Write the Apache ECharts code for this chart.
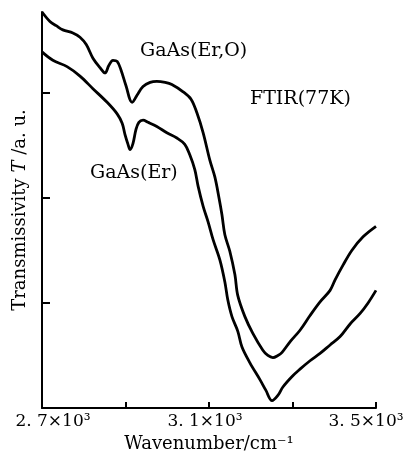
<!DOCTYPE html>
<html>
<head>
<meta charset="utf-8">
<script src="https://cdn.jsdelivr.net/npm/echarts@6/dist/echarts.min.js"></script>
<style>
html, body { margin: 0; padding: 0; background: #fff; }
#chart { width: 408px; height: 464px; }
</style>
</head>
<body>
<div id="chart"></div>
<script>
// GaAs(Er,O) curve
var erOX = [2700, 2719, 2734, 2750, 2774, 2791, 2806, 2822, 2839, 2851, 2860, 2870, 2880, 2889, 2901, 2916,
    2928, 2942, 2959, 2975, 2995, 3011, 3038, 3057, 3071, 3086, 3102, 3114, 3124, 3131, 3138, 3150, 3162,
    3169, 3186, 3205, 3229, 3241, 3253, 3265, 3275, 3294, 3318, 3342, 3366, 3390, 3402, 3421, 3442, 3469, 3500];
var erOY = [3.77, 3.68, 3.64, 3.60, 3.57, 3.53, 3.46, 3.33, 3.24, 3.19, 3.26, 3.31, 3.30, 3.22, 3.07, 2.91,
    2.98, 3.06, 3.10, 3.11, 3.10, 3.08, 3.01, 2.94, 2.81, 2.62, 2.36, 2.20, 2.00, 1.84, 1.65, 1.49, 1.27,
    1.07, 0.87, 0.71, 0.55, 0.50, 0.48, 0.50, 0.53, 0.63, 0.74, 0.88, 1.01, 1.12, 1.22, 1.36, 1.50, 1.63, 1.73];

// GaAs(Er) curve
var erX = [2700, 2726, 2760, 2791, 2822, 2856, 2880, 2892, 2899, 2906, 2911, 2918, 2925, 2932, 2942, 2954,
    2975, 2999, 3023, 3042, 3054, 3066, 3074, 3086, 3098, 3110, 3126, 3138, 3145, 3155, 3169, 3179, 3198,
    3222, 3236, 3251, 3265, 3277, 3299, 3318, 3342, 3366, 3390, 3414, 3438, 3462, 3481, 3500];
var erY = [3.39, 3.31, 3.25, 3.16, 3.04, 2.91, 2.80, 2.71, 2.60, 2.51, 2.46, 2.52, 2.65, 2.72, 2.74, 2.72,
    2.68, 2.62, 2.57, 2.51, 2.41, 2.27, 2.11, 1.92, 1.77, 1.60, 1.41, 1.20, 1.03, 0.87, 0.73, 0.58, 0.43,
    0.27, 0.17, 0.07, 0.12, 0.20, 0.30, 0.37, 0.45, 0.52, 0.60, 0.68, 0.80, 0.90, 1.00, 1.12];

var xTicks = [2700, 2900, 3100, 3300, 3500];
var xLabelValues = [2700, 3100, 3500];
var xLabelText = ['2. 7×10³', '3. 1×10³', '3. 5×10³'];
var yTicks = [1, 2, 3];

function pairs(xs, ys) {
    var out = [];
    for (var i = 0; i < xs.length; i++) out.push([xs[i], ys[i]]);
    return out;
}

var serif = 'DejaVu Serif';

var option = {
    backgroundColor: '#fff',
    animation: false,
    grid: { left: 42, right: 32, top: 12, bottom: 56 },
    xAxis: {
        type: 'value',
        min: 2700,
        max: 3500,
        interval: 200,
        name: 'Wavenumber/cm⁻¹',
        nameLocation: 'middle',
        nameGap: 27,
        nameTextStyle: { fontFamily: serif, fontSize: 18, color: '#000' },
        axisLine: { lineStyle: { color: '#000', width: 2 } },
        axisTick: { inside: true, length: 6, customValues: xTicks, lineStyle: { color: '#000', width: 2 } },
        splitLine: { show: false },
        axisLabel: {
            customValues: xLabelValues,
            margin: 5,
            color: '#000',
            formatter: function (v) {
                var i = xLabelValues.indexOf(v);
                return '{l' + i + '|' + xLabelText[i] + '}';
            },
            rich: {
                l0: { fontFamily: serif, fontSize: 17, color: '#000', padding: [0, 0, 0, 22] },
                l1: { fontFamily: serif, fontSize: 17, color: '#000', padding: [0, 8, 0, 0] },
                l2: { fontFamily: serif, fontSize: 17, color: '#000', padding: [0, 20, 0, 0] }
            }
        }
    },
    yAxis: {
        type: 'value',
        min: 0,
        max: 3.77,
        name: 'Transmissivity {i|T} /a. u.',
        nameLocation: 'middle',
        nameGap: 13,
        nameRotate: 90,
        nameTextStyle: {
            fontFamily: serif, fontSize: 18, color: '#000',
            rich: { i: { fontFamily: serif, fontStyle: 'italic', fontSize: 18, color: '#000' } }
        },
        axisLine: { show: true, lineStyle: { color: '#000', width: 2 } },
        axisTick: { show: true, inside: true, length: 8, customValues: yTicks, lineStyle: { color: '#000', width: 2 } },
        axisLabel: { show: false },
        splitLine: { show: false }
    },
    graphic: [
        { type: 'text', left: 140, top: 42, style: { text: 'GaAs(Er,O)', font: '19px "DejaVu Serif"', fill: '#000' } },
        { type: 'text', left: 250, top: 90, style: { text: 'FTIR(77K)', font: '19px "DejaVu Serif"', fill: '#000' } },
        { type: 'text', left: 90, top: 164, style: { text: 'GaAs(Er)', font: '19px "DejaVu Serif"', fill: '#000' } }
    ],
    series: [
        {
            name: 'GaAs(Er,O)',
            type: 'line',
            data: pairs(erOX, erOY),
            smooth: 0.35,
            symbol: 'none',
            lineStyle: { color: '#000', width: 2.8 }
        },
        {
            name: 'GaAs(Er)',
            type: 'line',
            data: pairs(erX, erY),
            smooth: 0.35,
            symbol: 'none',
            lineStyle: { color: '#000', width: 2.8 }
        }
    ]
};

var chart = echarts.init(document.getElementById('chart'));
chart.setOption(option);
</script>
</body>
</html>
